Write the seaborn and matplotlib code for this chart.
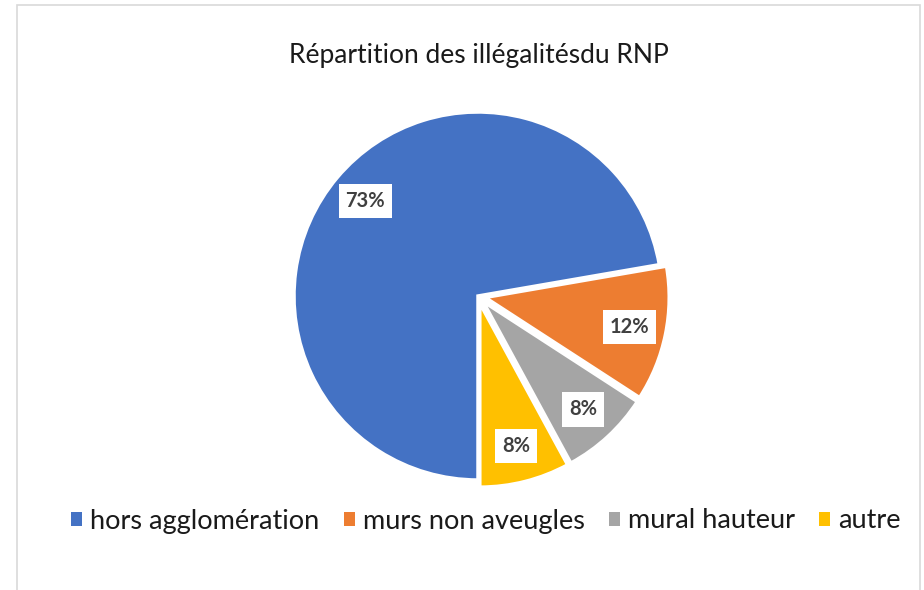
import matplotlib
matplotlib.use("Agg")
from matplotlib import pyplot as plt
from matplotlib.patches import Patch, Rectangle
import seaborn as sns

# données
categories = ["hors agglomération", "murs non aveugles", "mural hauteur", "autre"]
shares = [73, 12, 8, 8]
colors = ["#4472C4", "#ED7D31", "#A5A5A5", "#FFC000"]
title = "Répartition des illégalitésdu RNP"

sns.set_theme(style="white")
plt.rcParams['font.family'] = ['Lato', 'DejaVu Sans']

fig = plt.figure(figsize=(9.24, 5.9), dpi=100)
fig.patch.set_facecolor("white")

# cadre gris clair du graphique
fig.patches.append(Rectangle((17 / 924, -0.01), (920 - 17) / 924, 1 - 5 / 590 + 0.01,
                             transform=fig.transFigure, fill=False,
                             edgecolor="#D9D9D9", linewidth=1.2))

ax = fig.add_axes([248 / 924, 64 / 590, 460 / 924, 460 / 590])
wedges, texts, autotexts = ax.pie(
    shares,
    colors=colors,
    startangle=-90,
    counterclock=False,
    explode=[0, 0.04, 0.04, 0.04],
    autopct="%d",
    pctdistance=0.8,
    wedgeprops=dict(edgecolor="white", linewidth=2.5),
)
for t, v in zip(autotexts, shares):
    t.set_text(f"{v}%")
    t.set_fontsize(14.5)
    t.set_fontweight("bold")
    t.set_color("#404040")
    t.set_bbox(dict(facecolor="white", edgecolor="none", boxstyle="square,pad=0.35"))

ax.set_xlim(-1.25, 1.25)
ax.set_ylim(-1.25, 1.25)
ax.set_aspect("equal")
ax.axis("off")

fig.text(479 / 924, 1 - 55 / 590, title, ha="center", va="center",
         fontsize=19, color="#1a1a1a")

handles = [Patch(facecolor=c, edgecolor="none") for c in colors]
fig.legend(handles, categories, loc="center", bbox_to_anchor=(486 / 924, 69 / 590),
           ncol=4, frameon=False, fontsize=19.5, handlelength=0.4, handleheight=0.4,
           handletextpad=0.3, columnspacing=0.9, labelcolor="#1a1a1a")

fig.savefig("out.png", dpi=100, facecolor="white")
